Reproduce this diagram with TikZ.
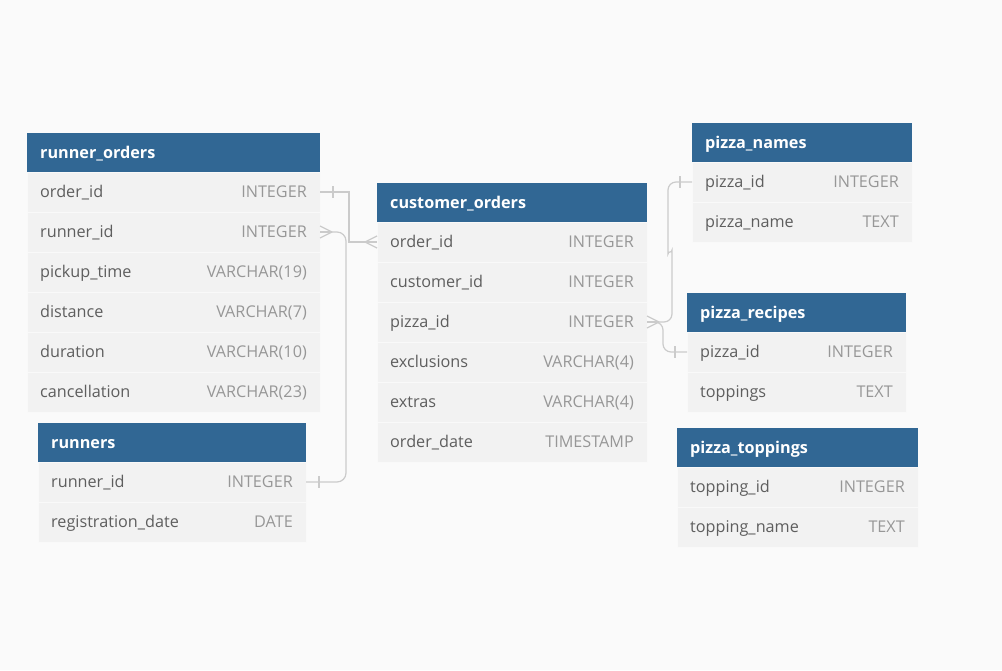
\documentclass[tikz,border=0pt]{standalone}
\usepackage{fontspec}
\setmainfont{Open Sans}
\usetikzlibrary{calc}

\definecolor{headblue}{HTML}{316794}
\definecolor{rowgray}{HTML}{F2F2F2}
\definecolor{pagegray}{HTML}{FAFAFA}
\definecolor{namegray}{HTML}{5E5E5E}
\definecolor{typegray}{HTML}{979797}
\definecolor{linkgray}{HTML}{CBCBCB}

\tikzset{
  tblhead/.style={fill=headblue, minimum height=39pt, inner sep=0pt, outer sep=0pt},
  tbltitle/.style={text=white, font=\fontsize{16.2}{19}\selectfont\bfseries, inner sep=0pt},
  tblrow/.style={fill=rowgray, draw=white!55!rowgray, minimum height=40pt, inner sep=0pt, outer sep=0pt},
  fname/.style={text=namegray, font=\fontsize{16.2}{19}\selectfont, inner sep=0pt},
  ftype/.style={text=typegray, font=\fontsize{16.2}{19}\selectfont, inner sep=0pt},
  conn/.style={draw=linkgray, line width=1.2pt},
}

% table: id, left, top, width, title, rows
\newcommand{\erdtable}[6]{%
  \node[tblhead, minimum width=#4pt, anchor=north west] (#1) at (#2,#3) {};
  \node[tbltitle, anchor=base west] (#1-t) at ([xshift=13pt,yshift=-5.5pt]#1.west) {#5};
  \foreach \fname/\ftype [count=\i] in {#6} {
    \node[tblrow, minimum width=#4pt, anchor=north west] (#1-\i) at (#2,{#3+39+40*(\i-1)}) {};
    \node[fname, anchor=base west] (#1-\i-n) at ([xshift=13pt,yshift=-5.5pt]#1-\i.west) {\fname};
    \node[ftype, anchor=base east] (#1-\i-t) at ([xshift=-13pt,yshift=-5.5pt]#1-\i.east) {\ftype};
  }
}
% many end: #1 point, #2 shift to the junction
\newcommand{\crowfoot}[2]{%
  \foreach \d in {-6,0,6}
    \draw[conn] ([xshift=#2]#1) -- ([yshift=\d pt]#1);
}
% one end
\newcommand{\onebar}[2]{%
  \draw[conn] ([xshift=#2,yshift=6pt]#1) -- ([xshift=#2,yshift=-6pt]#1);
}

\begin{document}
\begin{tikzpicture}[x=1pt,y=-1pt]
  \fill[pagegray] (0,0) rectangle (1002,670);
  \useasboundingbox (0,0) rectangle (1002,670);

  \erdtable{ro}{27}{133}{293}{runner\_orders}{order\_id/INTEGER, runner\_id/INTEGER,
    pickup\_time/VARCHAR(19), distance/VARCHAR(7), duration/VARCHAR(10), cancellation/VARCHAR(23)}
  \erdtable{rn}{38}{423}{268}{runners}{runner\_id/INTEGER, registration\_date/DATE}
  \erdtable{co}{377}{183}{270}{customer\_orders}{order\_id/INTEGER, customer\_id/INTEGER,
    pizza\_id/INTEGER, exclusions/VARCHAR(4), extras/VARCHAR(4), order\_date/TIMESTAMP}
  \erdtable{pn}{692}{123}{220}{pizza\_names}{pizza\_id/INTEGER, pizza\_name/TEXT}
  \erdtable{pr}{687}{293}{219}{pizza\_recipes}{pizza\_id/INTEGER, toppings/TEXT}
  \erdtable{pt}{677}{428}{241}{pizza\_toppings}{topping\_id/INTEGER, topping\_name/TEXT}

  % order_id
  \draw[conn] (ro-1.east) -- ++(29,0) |- (co-1.west);
  \onebar{ro-1.east}{13pt}
  \crowfoot{co-1.west}{-12pt}

  % runner_id
  \draw[conn, rounded corners=9pt] (rn-1.east) -| ([xshift=26pt]ro-2.east) -- (ro-2.east);
  \onebar{rn-1.east}{13pt}
  \crowfoot{ro-2.east}{12pt}

  % pizza_id
  \draw[conn, rounded corners=8pt] (pn-1.west) -- ++(-24,0) -- ++(0,64)
    to[out=-90,in=90] ++(4,12) |- (co-3.east);
  \onebar{pn-1.west}{-12pt}
  \draw[conn, rounded corners=8pt] (pr-1.west) -| ([xshift=16pt]co-3.east) -- (co-3.east);
  \onebar{pr-1.west}{-12pt}
  \crowfoot{co-3.east}{12pt}
\end{tikzpicture}
\end{document}
